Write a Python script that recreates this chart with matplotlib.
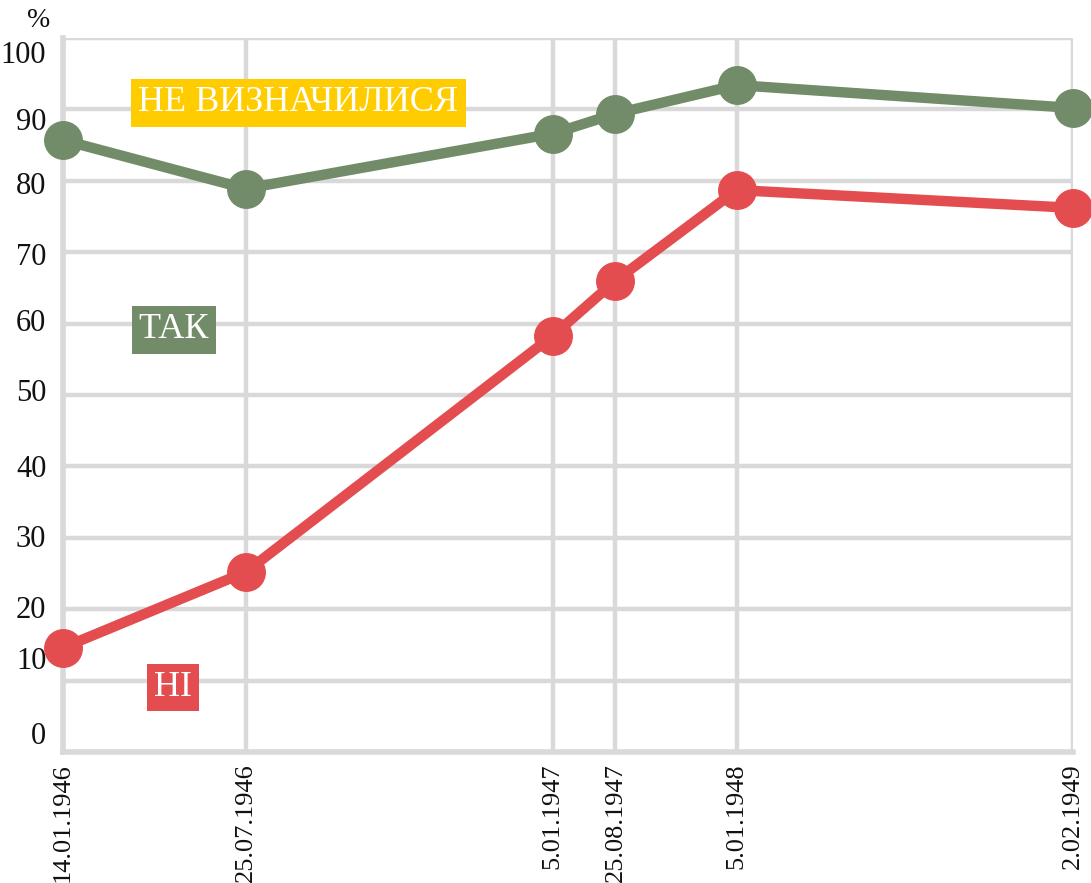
import matplotlib.pyplot as plt
import matplotlib.transforms as mtransforms

# data
dates = ["14.01.1946", "25.07.1946", "5.01.1947", "25.08.1947", "5.01.1948", "2.02.1949"]
x_pos = [0, 1.81, 4.85, 5.47, 6.67, 10]
tak = [85.7, 78.9, 86.6, 89.4, 93.4, 90.2]
ni = [14.6, 25.2, 58.3, 66.0, 78.7, 76.2]
y_ticks = [0, 10, 20, 30, 40, 50, 60, 70, 80, 90, 100]

green = "#728c69"
red = "#e44d4f"
yellow = "#ffcc00"
grid_c = "#d9d9d9"

plt.rcParams['font.family'] = ['Liberation Serif', 'DejaVu Serif']

fig = plt.figure(figsize=(10.91, 8.83), dpi=100)
ax = fig.add_axes([0.0577, 0.1484, 0.9258, 0.8086])

ax.set_xlim(x_pos[0], x_pos[-1])
ax.set_ylim(0, 100)

for y in y_ticks:
    ax.axhline(y, color=grid_c, lw=3.2, zorder=1)
for x in x_pos:
    ax.axvline(x, color=grid_c, lw=3.2, zorder=1)

ax.plot(x_pos, tak, color=green, lw=7.5, marker="o", markersize=27, clip_on=False, zorder=3)
ax.plot(x_pos, ni, color=red, lw=7.5, marker="o", markersize=27, clip_on=False, zorder=3)

for s in ["top", "right"]:
    ax.spines[s].set_visible(False)
for s in ["left", "bottom"]:
    ax.spines[s].set_color(grid_c)
    ax.spines[s].set_linewidth(4)

ax.set_yticks(y_ticks)
ax.set_yticklabels([str(v) for v in y_ticks])
ax.set_xticks(x_pos)
ax.set_xticklabels(dates, rotation=90)
ax.tick_params(length=0, colors="#111111")
ax.tick_params(axis="y", labelsize=22, pad=12)
ax.tick_params(axis="x", labelsize=19, pad=8)

# the y labels in the original sit a little off their gridlines
shifts = [19, 23, 2, 2, 0, 5, 4, -2, -2, -10, -14]
for lab, dy in zip(ax.get_yticklabels(), shifts):
    lab.set_transform(lab.get_transform() + mtransforms.ScaledTranslation(0, dy / 100, fig.dpi_scale_trans))

fig.text(0.035, 0.977, "%", fontsize=20, ha="center", va="center", color="#111111")

box = dict(boxstyle="square,pad=0.2", ec="none")
ax.text(2.33, 90.9, "НЕ ВИЗНАЧИЛИСЯ", fontsize=26, color="white", ha="center", va="center",
        bbox=dict(box, fc=yellow), zorder=4)
ax.text(1.1, 59.1, "ТАК", fontsize=26, color="white", ha="center", va="center",
        bbox=dict(box, fc=green), zorder=4)
ax.text(1.09, 9.0, "НІ", fontsize=26, color="white", ha="center", va="center",
        bbox=dict(box, fc=red), zorder=4)

fig.savefig("out.png", dpi=100)
